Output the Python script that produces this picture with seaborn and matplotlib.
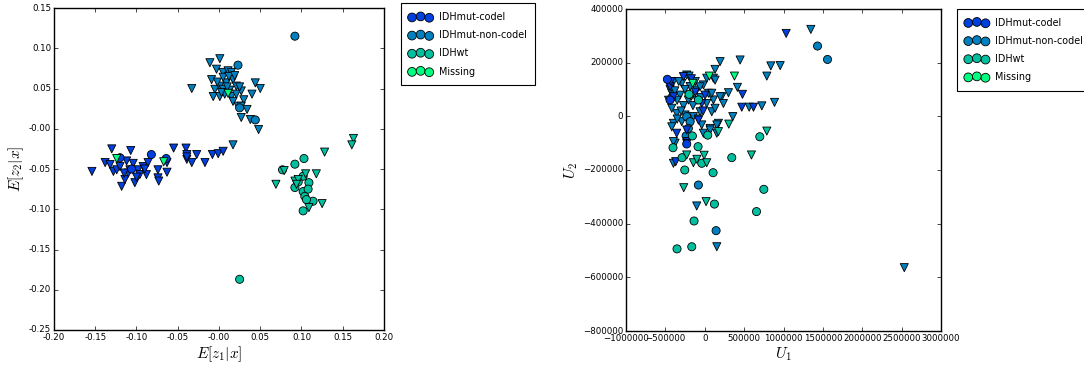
import matplotlib
matplotlib.use("Agg")
import matplotlib.pyplot as plt
import seaborn as sns
import pandas as pd
import numpy as np

groups = ["IDHmut-codel", "IDHmut-non-codel", "IDHwt", "Missing"]

# ---------------- left panel (E[z1|x], E[z2|x]) ----------------
L_codel_tri = [(-0.154,-0.053),(-0.130,-0.025),(-0.138,-0.042),(-0.132,-0.0445),(-0.128,-0.053),
               (-0.124,-0.051),(-0.118,-0.0715),(-0.114,-0.063),(-0.107,-0.027),(-0.112,-0.040),
               (-0.108,-0.051),(-0.102,-0.067),(-0.098,-0.051),(-0.096,-0.057),(-0.092,-0.047),
               (-0.088,-0.057),(-0.086,-0.042),(-0.074,-0.051),(-0.074,-0.061),(-0.063,-0.054),
               (-0.063,-0.042),(-0.055,-0.024),(-0.040,-0.024),(-0.039,-0.032),(-0.039,-0.038),
               (-0.033,-0.042),(-0.027,-0.032),(-0.017,-0.042),(-0.008,-0.032),(-0.001,-0.031),
               (0.005,-0.028),(-0.110,-0.055),(-0.120,-0.047),(-0.104,-0.043),(-0.100,-0.060),
               (-0.115,-0.055),(-0.090,-0.050),(-0.073,-0.065),(-0.039,-0.035)]
L_codel_circ = [(-0.120,-0.036),(-0.082,-0.032),(-0.064,-0.037),(-0.106,-0.050)]
L_noncodel_tri = [(-0.011,0.082),(0.001,0.087),(-0.003,0.074),(0.005,0.070),(0.011,0.072),
                  (0.015,0.070),(-0.009,0.061),(-0.005,0.049),(0.001,0.053),(0.005,0.049),
                  (0.009,0.057),(0.017,0.061),(0.021,0.053),(-0.007,0.040),(0.001,0.040),
                  (0.007,0.043),(0.015,0.040),(0.021,0.043),(0.027,0.047),(0.030,0.036),
                  (0.017,0.034),(0.023,0.028),(0.027,0.028),(0.034,0.024),(0.027,0.014),
                  (0.038,0.0115),(0.048,-0.001),(0.044,0.057),(0.040,0.043),(0.050,0.050),
                  (-0.033,0.050),(0.005,0.064),(0.012,0.065),(-0.002,0.058),(0.013,0.048),
                  (0.019,0.066),(0.003,0.045),(0.025,0.052),(0.010,0.052),(0.017,-0.020)]
L_noncodel_circ = [(0.023,0.079),(0.092,0.115),(0.025,0.026),(0.044,0.011)]
L_wt_circ = [(0.025,-0.187),(0.077,-0.051),(0.092,-0.044),(0.103,-0.037),(0.092,-0.073),
             (0.102,-0.059),(0.109,-0.067),(0.102,-0.078),(0.104,-0.084),(0.108,-0.075),
             (0.114,-0.090),(0.102,-0.102),(0.106,-0.088),(0.096,-0.066)]
L_wt_tri = [(0.069,-0.069),(0.079,-0.052),(0.092,-0.065),(0.096,-0.063),(0.105,-0.056),
            (0.118,-0.056),(0.128,-0.029),(0.125,-0.093),(0.109,-0.098),(0.163,-0.012),
            (0.161,-0.020),(0.094,-0.069)]
L_missing_tri = [(-0.124,-0.037),(-0.067,-0.041),(0.011,0.044)]

# ---------------- right panel (U1, U2) ----------------
R_noncodel_tri = [(2534e3,-564e3),(1347e3,324e3),(958e3,189e3),(839e3,188e3),(788e3,150e3),
                  (886e3,52e3),(725e3,39e3),(564e3,34e3),(449e3,210e3),(415e3,108e3),
                  (301e3,88e3),(356e3,-1e3),(216e3,73e3),(195e3,204e3),(131e3,175e3),
                  (110e3,142e3),(47e3,86e3),(110e3,61e3),(89e3,17e3),(174e3,-26e3),
                  (153e3,-63e3),(68e3,-45e3),(-17e3,-63e3),(-102e3,-334e3),(153e3,-486e3),
                  (-398e3,-26e3),(-377e3,-100e3),(-398e3,-175e3),(-229e3,154e3),(-398e3,129e3),
                  (-292e3,123e3),(-186e3,111e3),(-419e3,86e3),(-314e3,79e3),(-208e3,61e3),
                  (-102e3,98e3),(-17e3,117e3),(25e3,142e3),(131e3,135e3),(89e3,86e3),
                  (195e3,73e3),(237e3,48e3),(131e3,30e3),(25e3,48e3),(-59e3,17e3),
                  (-144e3,-1e3),(-250e3,5e3),(-356e3,11e3),(-419e3,30e3),(-292e3,-20e3),
                  (-186e3,-32e3),(-38e3,-32e3),(68e3,-51e3),(153e3,-32e3),(-419e3,-39e3),
                  (-398e3,-94e3),(-460e3,60e3),(-440e3,100e3),(-350e3,60e3),(-250e3,100e3),
                  (-150e3,40e3),(-100e3,60e3),(-60e3,110e3),(-330e3,130e3),(-270e3,40e3),
                  (-120e3,130e3),(-200e3,150e3),(-80e3,-10e3),(-350e3,-10e3),
                  (-455e3,120e3),(-380e3,95e3),(-300e3,20e3),(-170e3,75e3),(-50e3,70e3)]
R_noncodel_circ = [(1432e3,262e3),(1559e3,212e3),(-81e3,-256e3),(144e3,-426e3),(-229e3,-1e3),
                   (-237e3,-73e3),(-186e3,-20e3),(-208e3,-45e3),(-420e3,70e3)]
R_codel_tri = [(1034e3,309e3),(479e3,82e3),(470e3,34e3),(619e3,34e3),(-356e3,-63e3),
               (-369e3,-169e3),(-229e3,-51e3),(-220e3,-94e3),(-441e3,111e3),(-398e3,73e3),
               (-38e3,48e3),(4e3,79e3),(-271e3,148e3),(-80e3,-14e3),(-229e3,-101e3),
               (-170e3,140e3),(-430e3,130e3),(-20e3,20e3),(-120e3,90e3)]
R_codel_circ = [(-475e3,138e3),(-229e3,-103e3),(-441e3,61e3)]
R_wt_circ = [(-352e3,-494e3),(-165e3,-486e3),(-136e3,-390e3),(123e3,-327e3),(657e3,-355e3),
             (750e3,-272e3),(699e3,-76e3),(343e3,-154e3),(106e3,-210e3),(-38e3,-175e3),
             (-85e3,-113e3),(-254e3,-200e3),(-288e3,-154e3),(-403e3,-117e3),(-157e3,-73e3),
             (38e3,-70e3),(-199e3,82e3),(-81e3,61e3)]
R_wt_tri = [(-267e3,-266e3),(17e3,-318e3),(-8e3,-145e3),(-144e3,-173e3),(-229e3,-144e3),
            (25e3,-173e3),(593e3,-144e3),(788e3,-55e3),(305e3,-29e3),(174e3,-57e3),(-100e3,-160e3)]
R_missing_tri = [(377e3,150e3),(59e3,150e3),(-153e3,123e3)]


def make_df(sets):
    rows = []
    for pts, grp, shp in sets:
        for x, y in pts:
            rows.append((x, y, grp, shp))
    return pd.DataFrame(rows, columns=["x", "y", "group", "shape"])


left_df = make_df([(L_codel_tri, groups[0], "tri"), (L_codel_circ, groups[0], "circ"),
                   (L_noncodel_tri, groups[1], "tri"), (L_noncodel_circ, groups[1], "circ"),
                   (L_wt_circ, groups[2], "circ"), (L_wt_tri, groups[2], "tri"),
                   (L_missing_tri, groups[3], "tri")])
right_df = make_df([(R_noncodel_tri, groups[1], "tri"), (R_noncodel_circ, groups[1], "circ"),
                    (R_codel_tri, groups[0], "tri"), (R_codel_circ, groups[0], "circ"),
                    (R_wt_circ, groups[2], "circ"), (R_wt_tri, groups[2], "tri"),
                    (R_missing_tri, groups[3], "tri")])

plt.style.use("classic")
plt.rcParams["mathtext.fontset"] = "cm"
plt.rcParams["xtick.labelsize"] = 6.2
plt.rcParams["ytick.labelsize"] = 6.2
plt.rcParams["xtick.major.size"] = 3
plt.rcParams["ytick.major.size"] = 3

cmap = plt.get_cmap("winter")
palette = {g: cmap(v) for g, v in zip(groups, [0.25, 0.5, 0.75, 1.0])}

fig = plt.figure(figsize=(10.84, 3.74), dpi=100, facecolor="white")
axL = fig.add_axes([54/1084, 1 - 330/374, 330/1084, 322/374])
axR = fig.add_axes([626/1084, 1 - 331/374, 315/1084, 322/374])

for ax, df, top in [(axL, left_df, 1.014), (axR, right_df, 1.0)]:
    sns.scatterplot(data=df, x="x", y="y", hue="group", style="shape",
                    markers={"circ": "o", "tri": "v"}, palette=palette,
                    s=34, edgecolor="k", linewidth=0.6, legend=False, ax=ax, zorder=3)
    handles = [ax.scatter([], [], marker="o", s=40, color=palette[g], edgecolor="k",
                          linewidth=0.6) for g in groups]
    leg = ax.legend(handles, groups, loc="upper left", bbox_to_anchor=(1.05, top),
                    borderaxespad=0.0, scatterpoints=3, scatteryoffsets=[0.4, 0.55, 0.35],
                    fontsize=6.9, fancybox=False, frameon=True, labelspacing=0.85,
                    handlelength=2.4, handletextpad=0.7, borderpad=0.9)
    leg.get_frame().set_edgecolor("k")
    leg.get_frame().set_linewidth(0.8)
    ax.set_facecolor("white")

axL.set_xlim(-0.2, 0.2)
axL.set_ylim(-0.25, 0.15)
axL.set_xticks(np.arange(-0.2, 0.2001, 0.05))
axL.set_yticks(np.arange(-0.25, 0.1501, 0.05))
axL.xaxis.set_major_formatter(matplotlib.ticker.FormatStrFormatter("%.2f"))
axL.yaxis.set_major_formatter(matplotlib.ticker.FormatStrFormatter("%.2f"))
axL.set_xlabel(r"$E[z_1|x]$", fontsize=11, labelpad=2)
axL.set_ylabel(r"$E[z_2|x]$", fontsize=11, labelpad=2)

axR.set_xlim(-1e6, 3e6)
axR.set_ylim(-8e5, 4e5)
axR.set_xticks(np.arange(-1e6, 3.0001e6, 5e5))
axR.set_yticks(np.arange(-8e5, 4.0001e5, 2e5))
fmt = matplotlib.ticker.FuncFormatter(lambda v, p: f"{int(round(v))}".replace("-", "\u2212"))
axR.xaxis.set_major_formatter(fmt)
axR.yaxis.set_major_formatter(fmt)
axR.set_xlabel(r"$U_1$", fontsize=11, labelpad=2)
axR.set_ylabel(r"$U_2$", fontsize=11, labelpad=2)

for ax in (axL, axR):
    ax.tick_params(direction="in", top=True, right=True, pad=2)

fig.savefig("out.png", dpi=100, facecolor="white")
